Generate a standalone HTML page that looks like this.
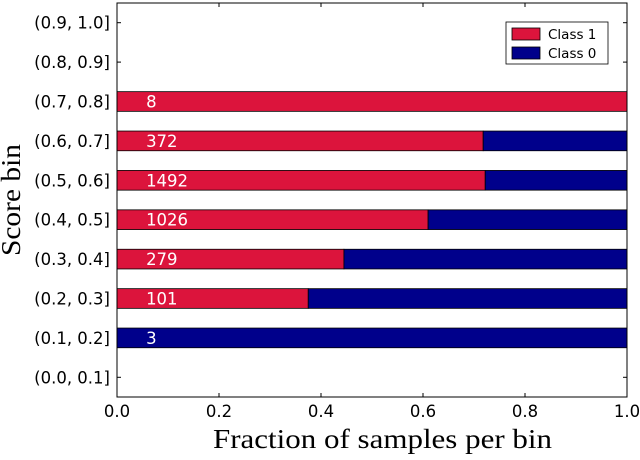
<!DOCTYPE html>
<html><head><meta charset="utf-8"><style>
body{margin:0;background:#fff;}
svg text{font-family:"DejaVu Sans","Liberation Sans",sans-serif;}
svg text.serif{font-family:"Liberation Serif",serif;}
</style></head><body>
<svg id="c" width="640" height="455"></svg>
<script>
const bins=["(0.0, 0.1]","(0.1, 0.2]","(0.2, 0.3]","(0.3, 0.4]","(0.4, 0.5]","(0.5, 0.6]","(0.6, 0.7]","(0.7, 0.8]","(0.8, 0.9]","(0.9, 1.0]"];
const class1Frac=[null,0,0.375,0.445,0.61,0.722,0.718,1.0,null,null];
const counts=[null,3,101,279,1026,1492,372,8,null,null];
const xTicks=[0,0.2,0.4,0.6,0.8,1.0];
const xTickLabels=["0.0","0.2","0.4","0.6","0.8","1.0"];
const L=117,R=627,T=3,B=397;
const sx=v=>L+(R-L)*v;
const sy=i=>B-(i+0.5)*(B-T)/10;
const NS="http://www.w3.org/2000/svg";
const svg=document.getElementById('c');
function mk(t,a,txt){const e=document.createElementNS(NS,t);for(const k in a)e.setAttribute(k,a[k]);if(txt!=null)e.textContent=txt;svg.appendChild(e);return e;}
const bh=0.5*(B-T)/10;
bins.forEach((b,i)=>{
  const y=sy(i);
  const t=mk('text',{x:L-7,y:y+6,'text-anchor':'end','font-size':16.5,fill:'#000'},b);
  
  
  const tk=mk('line',{x1:L,x2:L+4,y1:y,y2:y,stroke:'#000'});
  
  
  const tk2=mk('line',{x1:R-4,x2:R,y1:y,y2:y,stroke:'#000'});
  
  
  if(class1Frac[i]==null)return;
  const f=class1Frac[i];
  const r1=mk('rect',{x:sx(0),y:y-bh/2,width:sx(f)-sx(0),height:bh,fill:'#DC143C',stroke:'#000','stroke-width':0.8});
  
  
  const r0=mk('rect',{x:sx(f),y:y-bh/2,width:sx(1)-sx(f),height:bh,fill:'#00008B',stroke:'#000','stroke-width':0.8});
  
  
  const c=mk('text',{x:sx(0.057),y:y+6,'font-size':16.5,fill:'#fff'},String(counts[i]));
  
  
});
xTicks.forEach((v,j)=>{
  const x=sx(v);
  const t=mk('text',{x:x,y:B+20,'text-anchor':'middle','font-size':16.5,fill:'#000'},xTickLabels[j]);
  
  
  const a=mk('line',{x1:x,x2:x,y1:B,y2:B-4,stroke:'#000'});
  
  
  const b=mk('line',{x1:x,x2:x,y1:T,y2:T+4,stroke:'#000'});
  
  
});
const fr=mk('rect',{x:L,y:T,width:R-L,height:B-T,fill:'none',stroke:'#000','stroke-width':1});


const xl=mk('text',{x:213,y:448,'font-size':27,fill:'#000','class':'serif',textLength:339,lengthAdjust:'spacingAndGlyphs'},'Fraction of samples per bin');


const yl=mk('text',{x:0,y:0,'text-anchor':'middle','font-size':27,fill:'#000','class':'serif',textLength:112,lengthAdjust:'spacingAndGlyphs',transform:`translate(20,${(T+B)/2}) rotate(-90)`},'Score bin');


const lg=mk('rect',{x:506,y:22,width:102,height:42,fill:'#fff',stroke:'#000','stroke-width':0.8});


const ls=[["Class 1","#DC143C"],["Class 0","#00008B"]];
ls.forEach((e,k)=>{
  const y=34+k*19;
  const s=mk('rect',{x:512,y:y-6,width:28,height:12,fill:e[1],stroke:'#000','stroke-width':0.8});
  
  
  const t=mk('text',{x:548,y:y+5,'font-size':13.5,fill:'#000'},e[0]);
  
  
});
</script>
</body></html>
